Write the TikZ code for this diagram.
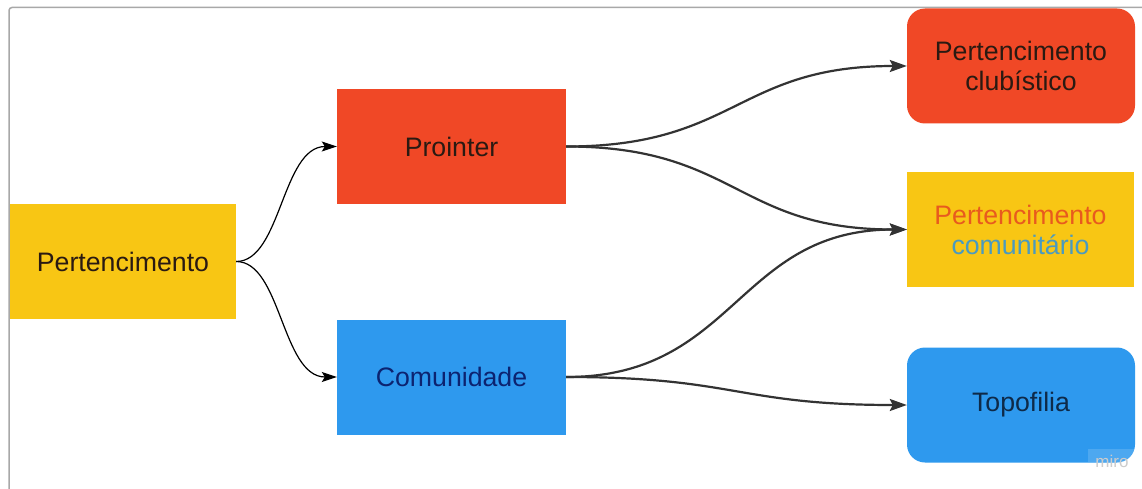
\documentclass[tikz,border=0pt]{standalone}
\usepackage{fontspec}
\setmainfont{Liberation Sans}
\usetikzlibrary{arrows.meta}
\definecolor{cyellow}{HTML}{F8C614}
\definecolor{cred}{HTML}{F04826}
\definecolor{cblue}{HTML}{2E99EE}
\definecolor{framegray}{HTML}{A8A8A8}
\definecolor{txtdark}{HTML}{2A1A12}
\definecolor{txtnavy}{HTML}{0C2370}
\definecolor{txttopo}{HTML}{0E2A48}
\definecolor{txtorange}{HTML}{E85A1E}
\definecolor{txtteal}{HTML}{4A9AC0}
\definecolor{linegray}{HTML}{333333}
\begin{document}
\begin{tikzpicture}[x=1pt,y=-1pt,
  boxbase/.style={inner sep=0pt, minimum width=228pt, minimum height=115pt, align=center,
    font=\fontsize{26.7}{30}\selectfont},
  sqbox/.style={boxbase},
  rndbox/.style={boxbase, rounded corners=18pt},
  thinarrow/.style={draw=black, line width=1.2pt, -{Stealth[length=15pt,width=10pt,inset=3pt]}},
  thickarrow/.style={draw=linegray, line width=2.2pt, -{Stealth[length=17pt,width=12pt,inset=3pt]}}
]
\useasboundingbox (0,0) rectangle (1142,489);
\fill[white] (0,0) rectangle (1142,489);
\draw[framegray, line width=1.5pt, rounded corners=3pt] (9,489) -- (9,7.5) -- (1142,7.5);

\node[sqbox, fill=cyellow, text=txtdark, minimum width=226pt] (pert) at (123,261.5) {Pertencimento};
\node[sqbox, fill=cred, text=txtdark, minimum width=229pt] (proi) at (451.5,146.5) {Prointer};
\node[sqbox, fill=cblue, text=txtnavy, minimum width=229pt] (comu) at (451.5,377) {Comunidade};
\node[rndbox, fill=cred, text=txtdark] (club) at (1021,66) {Pertencimento\\clubístico};
\node[sqbox, fill=cyellow, minimum width=227pt] (comt) at (1020.5,229.5) {\textcolor{txtorange}{Pertencimento}\\\textcolor{txtteal}{comunitário}};
\node[rndbox, fill=cblue, text=txttopo] (topo) at (1021,405) {Topofilia};

\draw[thinarrow] (pert.east) .. controls +(45,0) and +(-55,0) .. (proi.west);
\draw[thinarrow] (pert.east) .. controls +(45,0) and +(-55,0) .. (comu.west);
\draw[thickarrow] (proi.east) .. controls +(170,0) and +(-170,0) .. (club.west);
\draw[thickarrow] (proi.east) .. controls +(170,0) and +(-170,0) .. (comt.west);
\draw[thickarrow] (comu.east) .. controls +(170,0) and +(-170,0) .. (comt.west);
\draw[thickarrow] (comu.east) .. controls +(170,0) and +(-170,0) .. (topo.west);

\fill[white, opacity=0.15] (1088,449) rectangle (1134,462);
\node[text=gray!40, font=\fontsize{17}{17}\selectfont, inner sep=0pt] (miro) at (1112,461) {miro};
\end{tikzpicture}
\end{document}
